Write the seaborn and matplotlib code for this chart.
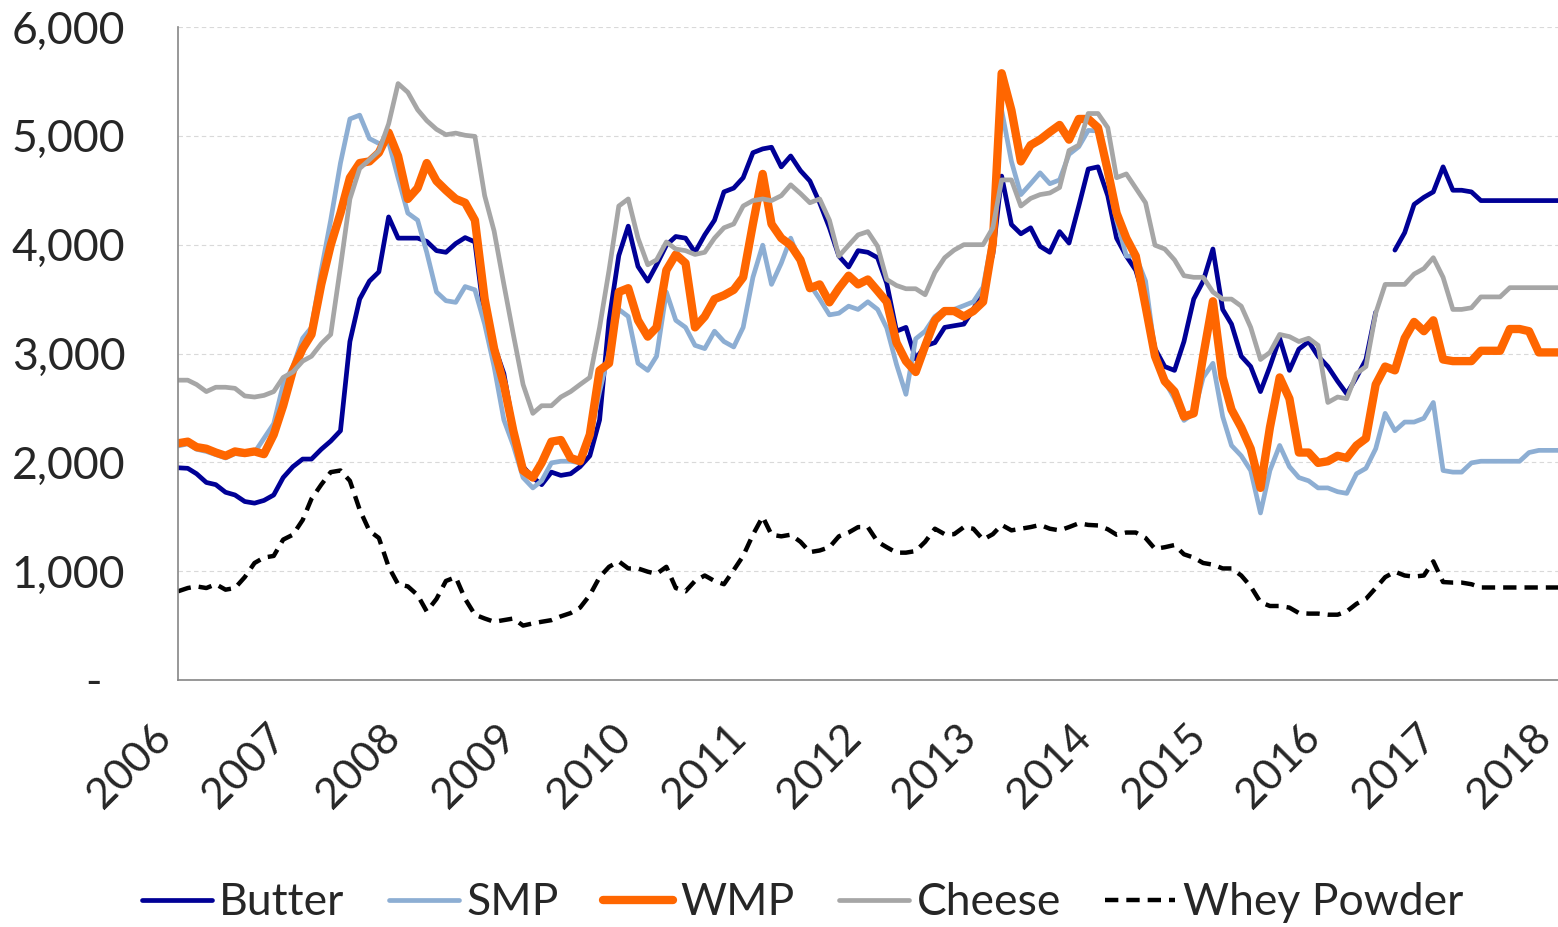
import numpy as np
import pandas as pd
import matplotlib
matplotlib.use("Agg")
import matplotlib.pyplot as plt
import matplotlib.dates as mdates
from matplotlib.lines import Line2D
from matplotlib.ticker import FuncFormatter, MultipleLocator
import seaborn as sns

# monthly prices, Jan 2006 .. Jan 2018
dates = pd.date_range("2006-01-01", "2018-01-01", freq="MS")

butter = [
    1950, 1945, 1895, 1815, 1795, 1725, 1700, 1640, 1625, 1650, 1700, 1860,
    1960, 2030, 2030, 2120, 2195, 2290, 3110, 3500, 3665, 3750, 4255, 4060,
    4060, 4060, 4030, 3945, 3930, 4010, 4065, 4025, 3305, 3075, 2815, 2320,
    1960, 1860, 1795, 1910, 1880, 1895, 1960, 2060, 2390, 3305, 3900, 4170,
    3800, 3665, 3815, 3995, 4075, 4060, 3930, 4090, 4225, 4485, 4520, 4615,
    4845, 4880, 4895, 4715, 4815, 4680, 4585, 4385, 4155, 3895, 3795, 3945,
    3930, 3880, 3645, 3205, 3240, 2950, 3070, 3100, 3240, 3255, 3270, 3405,
    3575, 3915, 4630, 4185, 4100, 4155, 3985, 3930, 4120, 4015, 4355, 4695,
    4715, 4450, 4060, 3895, 3765, 3470, 3045, 2880, 2845, 3110, 3500, 3665,
    3960, 3405, 3270, 2975, 2880, 2650, 2880, 3140, 2845, 3040, 3110, 2975,
    2880, 2745, 2630, 2780, 2945, 3380, np.nan, 3950, 4110, 4370, 4435, 4485,
    4715, 4500, 4500, 4485, 4405, 4405, 4405, 4405, 4405, 4405, 4405, 4405,
    4405,
]

smp = [
    2150, 2170, 2120, 2100, 2070, 2040, 2080, 2070, 2090, 2220, 2355, 2715,
    2880, 3140, 3240, 3765, 4225, 4750, 5155, 5190, 4975, 4930, 4945, 4615,
    4290, 4225, 3930, 3565, 3485, 3470, 3615, 3585, 3270, 2880, 2390, 2155,
    1860, 1765, 1830, 1995, 2010, 2010, 1995, 2220, 2650, 3010, 3405, 3340,
    2910, 2845, 2975, 3565, 3305, 3240, 3075, 3045, 3205, 3110, 3060, 3240,
    3700, 3995, 3635, 3830, 4060, 3830, 3635, 3500, 3355, 3370, 3435, 3405,
    3475, 3405, 3235, 2900, 2625, 3135, 3205, 3340, 3405, 3405, 3440, 3475,
    3610, 4085, 5235, 4765, 4460, 4560, 4660, 4560, 4595, 4830, 4900, 5050,
    5045, 4615, 4225, 3895, 3895, 3665, 3010, 2745, 2585, 2385, 2450, 2780,
    2910, 2420, 2155, 2060, 1925, 1535, 1925, 2155, 1960, 1860, 1830, 1765,
    1765, 1730, 1715, 1895, 1945, 2125, 2450, 2290, 2370, 2370, 2405, 2550,
    1925, 1910, 1910, 1995, 2010, 2010, 2010, 2010, 2010, 2090, 2110, 2110,
    2110,
]

wmp = [
    2175, 2190, 2140, 2125, 2090, 2060, 2100, 2085, 2100, 2075, 2255, 2520,
    2845, 3045, 3175, 3635, 3995, 4290, 4615, 4750, 4765, 4845, 5030, 4815,
    4420, 4520, 4750, 4585, 4500, 4420, 4385, 4225, 3500, 3045, 2715, 2290,
    1925, 1860, 1995, 2190, 2205, 2040, 2010, 2255, 2845, 2910, 3565, 3600,
    3305, 3155, 3240, 3765, 3910, 3830, 3240, 3340, 3500, 3535, 3585, 3700,
    4190, 4650, 4190, 4060, 3995, 3860, 3600, 3635, 3470, 3600, 3715, 3635,
    3680, 3575, 3475, 3100, 2930, 2830, 3070, 3305, 3390, 3390, 3340, 3390,
    3475, 4015, 5575, 5235, 4765, 4915, 4965, 5035, 5100, 4965, 5155, 5155,
    5075, 4680, 4290, 4060, 3895, 3435, 2975, 2745, 2650, 2420, 2450, 2975,
    3480, 2780, 2485, 2320, 2125, 1765, 2320, 2780, 2585, 2090, 2090, 1995,
    2010, 2060, 2040, 2155, 2220, 2715, 2880, 2845, 3140, 3290, 3205, 3305,
    2945, 2930, 2930, 2930, 3025, 3025, 3025, 3225, 3225, 3205, 3010, 3010,
    3010,
]

cheese = [
    2755, 2755, 2715, 2650, 2690, 2690, 2680, 2610, 2600, 2615, 2650, 2780,
    2830, 2930, 2975, 3090, 3175, 3795, 4420, 4700, 4780, 4860, 5110, 5480,
    5400, 5240, 5140, 5060, 5010, 5025, 5005, 4995, 4450, 4125, 3635, 3175,
    2715, 2450, 2520, 2520, 2600, 2650, 2715, 2780, 3240, 3765, 4355, 4420,
    4060, 3815, 3860, 4025, 3960, 3945, 3910, 3930, 4060, 4155, 4190, 4355,
    4405, 4420, 4405, 4450, 4550, 4470, 4385, 4420, 4225, 3895, 3995, 4090,
    4120, 3985, 3680, 3625, 3595, 3595, 3540, 3745, 3880, 3950, 4000, 4000,
    4000, 4155, 4595, 4595, 4355, 4425, 4460, 4475, 4525, 4865, 4915, 5205,
    5205, 5075, 4615, 4650, 4520, 4385, 3995, 3960, 3860, 3715, 3700, 3700,
    3565, 3500, 3500, 3435, 3240, 2945, 3010, 3175, 3155, 3110, 3140, 3075,
    2550, 2600, 2585, 2815, 2880, 3370, 3635, 3635, 3635, 3730, 3780, 3880,
    3700, 3405, 3405, 3420, 3520, 3520, 3520, 3605, 3605, 3605, 3605, 3605,
    3605,
]

whey = [
    815, 845, 860, 845, 880, 830, 845, 945, 1075, 1125, 1140, 1290,
    1335, 1470, 1665, 1795, 1910, 1925, 1830, 1565, 1370, 1305, 1040, 880,
    860, 780, 630, 745, 910, 945, 745, 600, 565, 535, 550, 565,
    500, 520, 535, 550, 585, 615, 665, 780, 945, 1040, 1090, 1025,
    1025, 995, 975, 1040, 845, 815, 910, 960, 910, 880, 1010, 1140,
    1335, 1500, 1335, 1320, 1335, 1270, 1175, 1190, 1220, 1320, 1355, 1405,
    1405, 1270, 1220, 1170, 1170, 1185, 1270, 1390, 1340, 1340, 1405, 1390,
    1290, 1340, 1425, 1375, 1390, 1405, 1425, 1390, 1375, 1405, 1440, 1425,
    1420, 1385, 1335, 1355, 1355, 1305, 1205, 1220, 1240, 1155, 1125, 1075,
    1060, 1025, 1025, 960, 860, 715, 680, 680, 665, 615, 610, 610,
    600, 600, 630, 700, 745, 845, 945, 995, 960, 950, 960, 1090,
    900, 895, 895, 880, 850, 850, 850, 850, 850, 850, 850, 850,
    850,
]

names = ["Butter", "SMP", "WMP", "Cheese", "Whey Powder"]
colors = ["#000096", "#8DAED3", "#FF6600", "#A6A6A6", "#000000"]
widths = [3.4, 3.4, 6.0, 3.4, 3.2]
dash_styles = ["-", "-", "-", "-", (0, (3.0, 1.8))]

sns.set_style("white")
plt.rcParams["font.family"] = ["Lato", "DejaVu Sans"]

fig = plt.figure(figsize=(15.58, 9.27), dpi=100)
ax = fig.add_axes([178 / 1558, 1 - 680 / 927, 1 - 178 / 1558, (680 - 27) / 927])

handles = []
for name, vals, c, lw, ls in zip(names, [butter, smp, wmp, cheese, whey], colors, widths, dash_styles):
    df = pd.DataFrame({"date": dates, "value": vals})
    df["seg"] = df["value"].isna().cumsum()   # break the line where data is missing
    df = df.dropna()
    sns.lineplot(data=df, x="date", y="value", units="seg", estimator=None,
                 color=c, lw=lw, linestyle=ls, ax=ax)
    handles.append(Line2D([], [], color=c, lw=lw, linestyle=ls))

ax.set_xlim(pd.Timestamp("2006-01-01"), pd.Timestamp("2018-01-01"))
ax.set_ylim(0, 6000)
ax.yaxis.set_major_locator(MultipleLocator(1000))
ax.yaxis.set_major_formatter(FuncFormatter(lambda v, p: "-  " if v == 0 else f"{v:,.0f}"))
ax.xaxis.set_major_locator(mdates.YearLocator())
ax.xaxis.set_major_formatter(mdates.DateFormatter("%Y"))
ax.set_xlabel("")
ax.set_ylabel("")

ax.yaxis.grid(True, color="#D9D9D9", linestyle=(0, (4, 3)), lw=0.8)
ax.xaxis.grid(False)
for s in ["top", "right"]:
    ax.spines[s].set_visible(False)
for s in ["left", "bottom"]:
    ax.spines[s].set_color("#868686")
    ax.spines[s].set_linewidth(1.2)

ax.tick_params(axis="y", length=0, pad=38, labelsize=32)
ax.tick_params(axis="x", length=0, pad=27, labelsize=31)
for lab in ax.get_xticklabels():
    lab.set_rotation(45)
    lab.set_ha("right")
    lab.set_va("top")

fig.legend(handles, names, loc="center", bbox_to_anchor=(0.515, 0.026), ncol=5,
           frameon=False, fontsize=32, handlelength=1.58, handletextpad=0.16,
           columnspacing=1.0)

fig.savefig("out.png", dpi=100)
